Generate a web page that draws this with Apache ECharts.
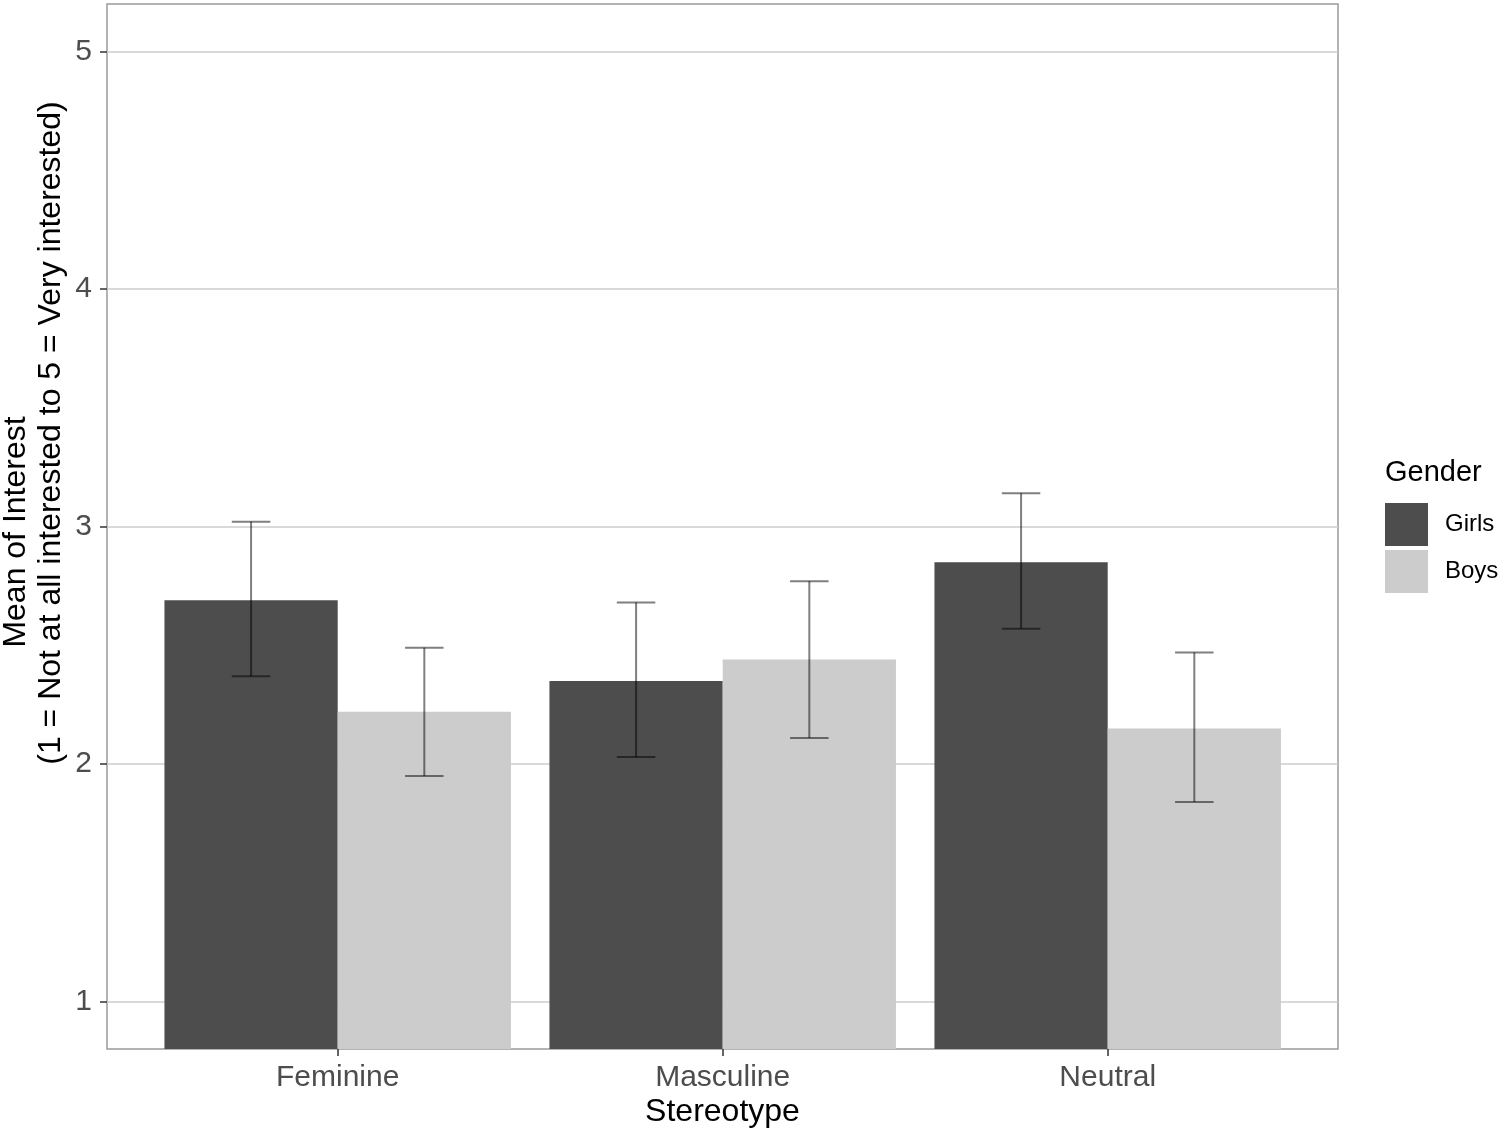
<!DOCTYPE html>
<html>
<head>
<meta charset="utf-8">
<script src="https://cdn.jsdelivr.net/npm/echarts@6/dist/echarts.min.js"></script>
<style>
  html, body { margin: 0; padding: 0; background: #fff; }
  #chart { width: 1500px; height: 1133px; }
</style>
</head>
<body>
<div id="chart"></div>
<script>
var categories = ['Feminine', 'Masculine', 'Neutral'];
var girlsMean = [2.69, 2.35, 2.85];
var boysMean = [2.22, 2.44, 2.15];
var girlsLow = [2.37, 2.03, 2.57];
var girlsHigh = [3.02, 2.68, 3.14];
var boysLow = [1.95, 2.11, 1.84];
var boysHigh = [2.49, 2.77, 2.47];
var yTicks = [1, 2, 3, 4, 5];

var font = 'Liberation Sans, Arial, Helvetica, sans-serif';

// error bar rows: [category index, low, high, side(-1 girls, +1 boys)]
var errData = [];
for (var i = 0; i < categories.length; i++) {
    errData.push([i, girlsLow[i], girlsHigh[i], -1]);
    errData.push([i, boysLow[i], boysHigh[i], 1]);
}

function renderErr(params, api) {
    var catW = api.size([1, 0])[0];
    var dx = api.value(3) * catW * 0.225;
    var lo = api.coord([api.value(0), api.value(1)]);
    var hi = api.coord([api.value(0), api.value(2)]);
    var x = lo[0] + dx;
    var cap = catW * 0.05;
    var style = { stroke: 'rgba(0,0,0,0.5)', lineWidth: 2, fill: null };
    return {
        type: 'group',
        children: [
            { type: 'line', shape: { x1: x, y1: lo[1], x2: x, y2: hi[1] }, style: style },
            { type: 'line', shape: { x1: x - cap, y1: lo[1], x2: x + cap, y2: lo[1] }, style: style },
            { type: 'line', shape: { x1: x - cap, y1: hi[1], x2: x + cap, y2: hi[1] }, style: style }
        ]
    };
}

var option = {
    animation: false,
    backgroundColor: '#fff',
    textStyle: { fontFamily: font },
    grid: [
        { left: 107, top: 4, width: 1231, height: 1045, show: true,
          borderColor: '#9a9a9a', borderWidth: 1.5, backgroundColor: '#fff' },
        { left: 145.2, top: 4, width: 1155, height: 1045 }
    ],
    legend: {
        data: ['Girls', 'Boys'],
        orient: 'vertical',
        left: 1385,
        top: 503,
        padding: 0,
        itemWidth: 43,
        itemHeight: 43,
        itemGap: 4,
        icon: 'rect',
        selectedMode: false,
        textStyle: { fontFamily: font, fontSize: 24, color: '#000', padding: [5, 0, 0, 12] }
    },
    xAxis: [
        { type: 'value', gridIndex: 0, min: 0, max: 1, show: false },
        {
            type: 'category', gridIndex: 1, data: categories,
            axisLine: { show: false },
            axisTick: { show: true, alignWithLabel: true, length: 7,
                        lineStyle: { color: '#333', width: 1.5 } },
            axisLabel: { fontFamily: font, fontSize: 30, color: '#4d4d4d', margin: 14 },
            splitLine: { show: false }
        }
    ],
    yAxis: [
        {
            type: 'value', gridIndex: 0, min: 0.8, max: 5.2,
            axisLine: { show: false },
            axisTick: { show: true, length: 7, customValues: yTicks,
                        lineStyle: { color: '#333', width: 1.5 } },
            axisLabel: { fontFamily: font, fontSize: 30, color: '#4d4d4d', margin: 15,
                         customValues: yTicks },
            splitLine: { show: true, customValues: yTicks,
                         lineStyle: { color: '#cccccc', width: 1.6 } }
        },
        { type: 'value', gridIndex: 1, min: 0.8, max: 5.2, show: false }
    ],
    graphic: [
        { type: 'text', left: 1385, top: 458,
          style: { text: 'Gender', font: '29px ' + font, fill: '#000' } },
        { type: 'text', x: 722.5, y: 1112,
          style: { text: 'Stereotype', x: 0, y: 0, align: 'center', verticalAlign: 'middle',
                   font: '32px ' + font, fill: '#000' } },
        { type: 'text', x: 16, y: 532, rotation: Math.PI / 2,
          style: { text: 'Mean of Interest', x: 0, y: 0, align: 'center', verticalAlign: 'middle',
                   font: '32px ' + font, fill: '#000' } },
        { type: 'text', x: 51, y: 433, rotation: Math.PI / 2,
          style: { text: '(1 = Not at all interested to 5 = Very interested)', x: 0, y: 0,
                   align: 'center', verticalAlign: 'middle',
                   font: '32px ' + font, fill: '#000' } }
    ],
    series: [
        { name: 'Girls', type: 'bar', xAxisIndex: 1, yAxisIndex: 1, data: girlsMean,
          barWidth: '45%', barGap: '0%', clip: true, itemStyle: { color: '#4d4d4d' } },
        { name: 'Boys', type: 'bar', xAxisIndex: 1, yAxisIndex: 1, data: boysMean,
          barWidth: '45%', barGap: '0%', clip: true, itemStyle: { color: '#cccccc' } },
        { name: 'err', type: 'custom', xAxisIndex: 1, yAxisIndex: 1, data: errData,
          renderItem: renderErr, z: 5, silent: true }
    ]
};

var myChart = echarts.init(document.getElementById('chart'));
myChart.setOption(option);
window.onresize = myChart.resize;
</script>
</body>
</html>
